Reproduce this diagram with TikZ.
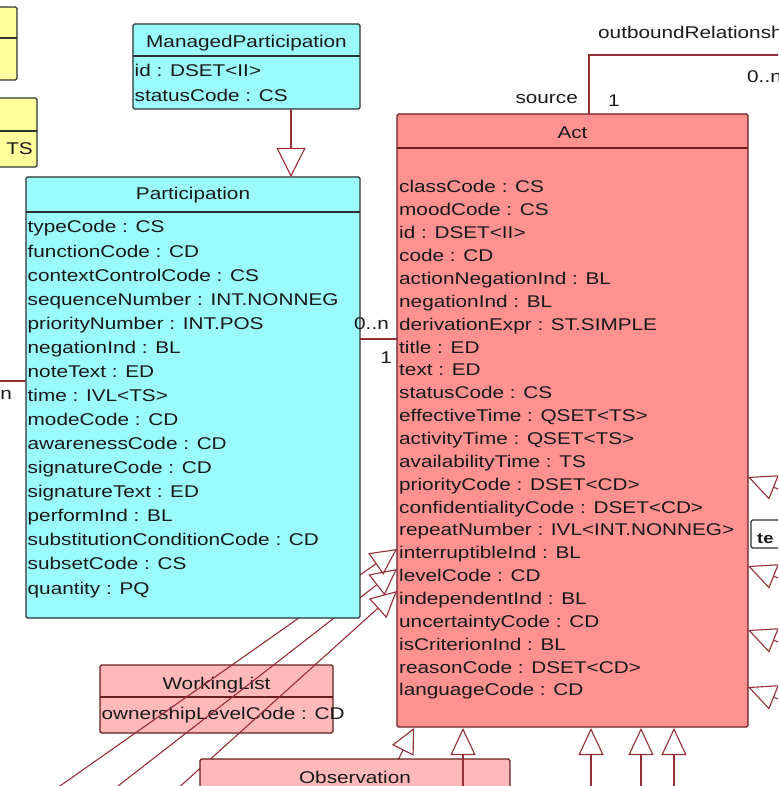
\documentclass[tikz,border=0pt]{standalone}
\usepackage{fontspec}
\newfontfamily\umlfont[FakeStretch=1.22]{Liberation Sans}
\usetikzlibrary{arrows.meta}

\definecolor{partcyan}{RGB}{155,250,250}
\definecolor{actpink}{RGB}{255,145,145}
\definecolor{actlight}{RGB}{255,185,185}
\definecolor{cmetyellow}{RGB}{255,255,155}
\definecolor{linkred}{RGB}{150,45,55}
\definecolor{boxedge}{RGB}{45,50,50}
\definecolor{actedge}{RGB}{105,30,30}
\definecolor{textgray}{RGB}{25,25,25}

\tikzset{
  boxline/.style={draw=boxedge, line width=1.3pt},
  classbox/.style={boxline, rounded corners=1.5pt, anchor=north west, inner sep=0pt, outer sep=0pt},
  attr/.style={anchor=base west, inner sep=0pt, text=textgray, font=\umlfont\fontsize{17}{20}\selectfont},
  classname/.style={attr, anchor=base},
  link/.style={draw=linkred, line width=1.1pt},
  gen/.style={link, -{Triangle[open, length=26pt, width=26pt]}},
}

\begin{document}
\begin{tikzpicture}[x=1pt,y=-1pt]
\useasboundingbox (0,0) rectangle (778,786);
\clip (0,0) rectangle (778,786);

% CMET boxes cut by the left edge
\node[classbox, fill=cmetyellow, minimum width=30pt, minimum height=73pt] (cmetA) at (-13,7) {};
\draw[boxline] (-13,38) -- (17,38);
\node[classbox, fill=cmetyellow, minimum width=50pt, minimum height=69pt] (cmetB) at (-13,98) {};
\draw[boxline] (-13,131) -- (37,131);
\node[attr, anchor=base east] (cmetB-1) at (33,155) {TS};

% ManagedParticipation
\node[classbox, fill=partcyan, minimum width=227pt, minimum height=85pt] (mp) at (133,24) {};
\draw[boxline] (133,56) -- (360,56);
\node[classname] (mp-name) at (246.5,48) {ManagedParticipation};
\node[attr] (mp-1) at (134.5,77) {id : DSET<II>};
\node[attr] (mp-2) at (134.5,102) {statusCode : CS};

% Act
\node[classbox, draw=actedge, fill=actpink, minimum width=351pt, minimum height=613pt] (act) at (397,114) {};
\draw[boxline, draw=actedge] (397,148) -- (748,148);
\node[classname] (act-name) at (572.5,139) {Act};
\foreach \t [count=\i] in {classCode : CS, moodCode : CS, id : DSET<II>, code : CD,
    actionNegationInd : BL, negationInd : BL, derivationExpr : ST.SIMPLE, title : ED,
    text : ED, statusCode : CS, effectiveTime : QSET<TS>, activityTime : QSET<TS>,
    availabilityTime : TS, priorityCode : DSET<CD>, confidentialityCode : DSET<CD>,
    repeatNumber : IVL<INT.NONNEG>, interruptibleInd : BL, levelCode : CD,
    independentInd : BL, uncertaintyCode : CD, isCriterionInd : BL,
    reasonCode : DSET<CD>, languageCode : CD}
  \node[attr] (act-\i) at (399,{193+(\i-1)*22.86}) {\t};

% WorkingList
\node[classbox, draw=actedge, fill=actlight, minimum width=233pt, minimum height=68pt] (wl) at (100,665) {};
\draw[boxline, draw=actedge] (100,697) -- (333,697);
\node[classname] (wl-name) at (216.5,689) {WorkingList};
\node[attr] (wl-1) at (101.5,719) {ownershipLevelCode : CD};

% specializations coming in on the left side of Act
\path (act.north west) ++(0,435) coordinate (actL1);
\path (act.north west) ++(0,455) coordinate (actL2);
\path (act.north west) ++(0,477) coordinate (actL3);
\coordinate (subL1) at (40,800);
\coordinate (subL2) at (100,800);
\coordinate (subL3) at (165,800);
\foreach \i in {1,2,3}
  \draw[gen] (subL\i) -- (actL\i);
\path (act.south west) ++(17,1) coordinate (actB1);
\coordinate (subB1) at (378,800);
\draw[gen, -{Triangle[open, length=25pt, width=24pt]}] (subB1) -- (actB1);

% Participation
\node[classbox, fill=partcyan, minimum width=334pt, minimum height=441pt] (part) at (26,177) {};
\draw[boxline] (26,212) -- (360,212);
\node[classname] (part-name) at (193,200) {Participation};
\foreach \t [count=\i] in {typeCode : CS, functionCode : CD, contextControlCode : CS,
    sequenceNumber : INT.NONNEG, priorityNumber : INT.POS, negationInd : BL,
    noteText : ED, time : IVL<TS>, modeCode : CD, awarenessCode : CD,
    signatureCode : CD, signatureText : ED, performInd : BL,
    substitutionConditionCode : CD, subsetCode : CS, quantity : PQ}
  \node[attr] (part-\i) at (27.5,{233+(\i-1)*24.07}) {\t};

% Observation
\node[classbox, draw=actedge, fill=actlight, minimum width=310pt, minimum height=60pt] (obs) at (200,759) {};
\node[classname] (obs-name) at (355,783) {Observation};

% generalizations
\coordinate (mpgen) at (291,0);
\draw[gen, -{Triangle[open, length=29pt, width=29pt]}] (mpgen |- mp.south) -- (mpgen |- part.north);
\foreach \dx [count=\i from 2] in {66,194,244,277} {
  \path (act.south west) ++(\dx,1) coordinate (actB\i);
  \coordinate (subB\i) at ([yshift=-80pt]actB\i);
  \draw[gen, -{Triangle[open, length=27pt, width=25pt]}] (subB\i) -- (actB\i);
}
\foreach \dy [count=\i] in {363,452,516,573} {
  \path (act.north east) ++(0,\dy) coordinate (actR\i);
  \path (actR\i) ++(70,28) coordinate (subR\i);
  \draw[gen, -{Triangle[open, length=28pt, width=26pt]}] (subR\i) -- (actR\i);
}
\node[classbox, fill=white, minimum width=40pt, minimum height=28pt] (tebox) at (751,520) {};
\node[attr, font=\umlfont\bfseries\fontsize{15}{18}\selectfont] (tebox-1) at (757,543) {te};

% associations
\coordinate (pa) at (0,339);
\draw[link] (pa -| part.east) -- (pa -| act.west);
\node[attr, anchor=base east] (pa-from) at (389,329) {0..n};
\node[attr, anchor=base east] (pa-to) at (392,363) {1};

\coordinate (leftend) at (-5,381);
\draw[link] (leftend) -- (leftend -| part.west);
\node[attr, anchor=base east] (left-mult) at (12,399) {0..n};

\coordinate (selfup) at (589,55);
\coordinate (selfend) at (800,55);
\draw[link] (selfup |- act.north) -- (selfup) -- (selfend);
\node[attr, anchor=base east] (self-role) at (578,104) {source};
\node[attr] (self-one) at (608,107) {1};
\node[attr] (self-out) at (598,39) {outboundRelationship};
\node[attr] (self-many) at (747,83) {0..n};
\end{tikzpicture}
\end{document}
